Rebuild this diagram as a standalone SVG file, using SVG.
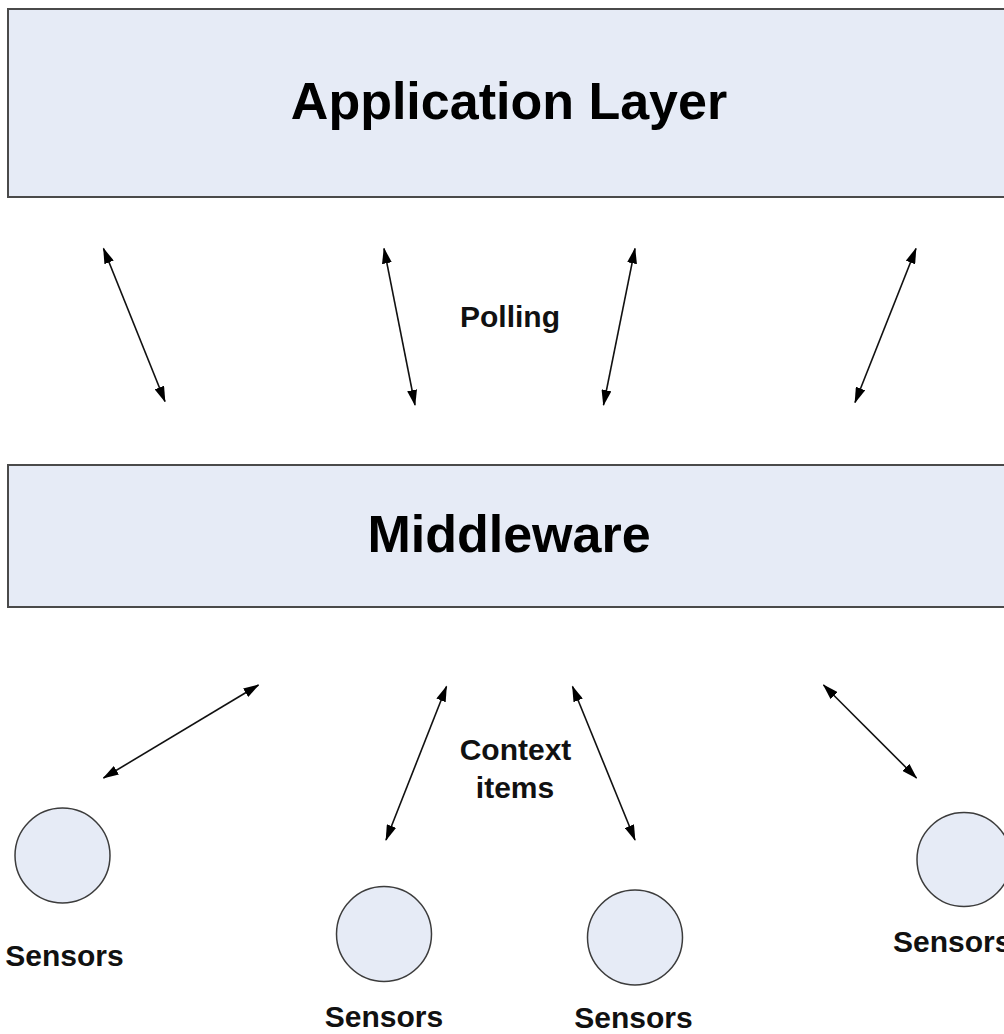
<svg xmlns="http://www.w3.org/2000/svg" width="1004" height="1034" viewBox="0 0 1004 1034">
  <defs>
    <style>
      .layer { fill: #e6ebf6; stroke: #4a4a4a; stroke-width: 2; }
      .sensor { fill: #e6ebf6; stroke: #3c3c3c; stroke-width: 1.5; }
      .title { font-family: "Liberation Sans", Arial, sans-serif; font-weight: bold; font-size: 52px; fill: #000; text-anchor: middle; }
      .label { font-family: "Liberation Sans", Arial, sans-serif; font-weight: bold; font-size: 30px; fill: #111; text-anchor: middle; }
      .link { stroke: #111; stroke-width: 1.6; fill: none; marker-start: url(#tip); marker-end: url(#tip); }
    </style>
    <marker id="tip" viewBox="0 0 16 10" refX="15" refY="5" markerWidth="16" markerHeight="10" markerUnits="userSpaceOnUse" orient="auto-start-reverse">
      <path d="M0,0 L16,5 L0,10 Z" fill="#000"/>
    </marker>
  </defs>

  <rect width="1004" height="1034" fill="#ffffff"/>

  <g id="application-layer">
    <rect class="layer" x="8" y="9" width="1010" height="188"/>
    <text class="title" x="509" y="119">Application Layer</text>
  </g>

  <g id="middleware">
    <rect class="layer" x="8" y="465" width="1010" height="142"/>
    <text class="title" x="509" y="552">Middleware</text>
  </g>

  <g id="sensor-1">
    <circle class="sensor" cx="62.5" cy="855.5" r="47.5"/>
    <text class="label" x="64.5" y="966">Sensors</text>
  </g>
  <g id="sensor-2">
    <circle class="sensor" cx="384" cy="934" r="47.5"/>
    <text class="label" x="384" y="1027">Sensors</text>
  </g>
  <g id="sensor-3">
    <circle class="sensor" cx="635" cy="937.5" r="47.5"/>
    <text class="label" x="633.5" y="1028">Sensors</text>
  </g>
  <g id="sensor-4">
    <circle class="sensor" cx="964" cy="859.5" r="47"/>
    <text class="label" x="893" y="952" style="text-anchor:start">Sensors</text>
  </g>

  <g id="connectors">
    <!-- application layer to middleware -->
    <line class="link" x1="103.5" y1="248.5" x2="165" y2="401.5"/>
    <line class="link" x1="384" y1="248.5" x2="415" y2="405"/>
    <line class="link" x1="635" y1="248.5" x2="603.5" y2="405"/>
    <line class="link" x1="916" y1="248.5" x2="855" y2="402.5"/>
    <!-- middleware to sensors -->
    <line class="link" x1="258.5" y1="685" x2="103.5" y2="778"/>
    <line class="link" x1="446.5" y1="686.5" x2="386" y2="840"/>
    <line class="link" x1="572.5" y1="686.5" x2="635" y2="840"/>
    <line class="link" x1="823.5" y1="685" x2="916.5" y2="778"/>
  </g>

  <g id="labels">
    <text class="label" x="510" y="326.5">Polling</text>
    <text class="label" x="515.5" y="760">Context</text>
    <text class="label" x="515" y="797.5">items</text>
  </g>
</svg>
